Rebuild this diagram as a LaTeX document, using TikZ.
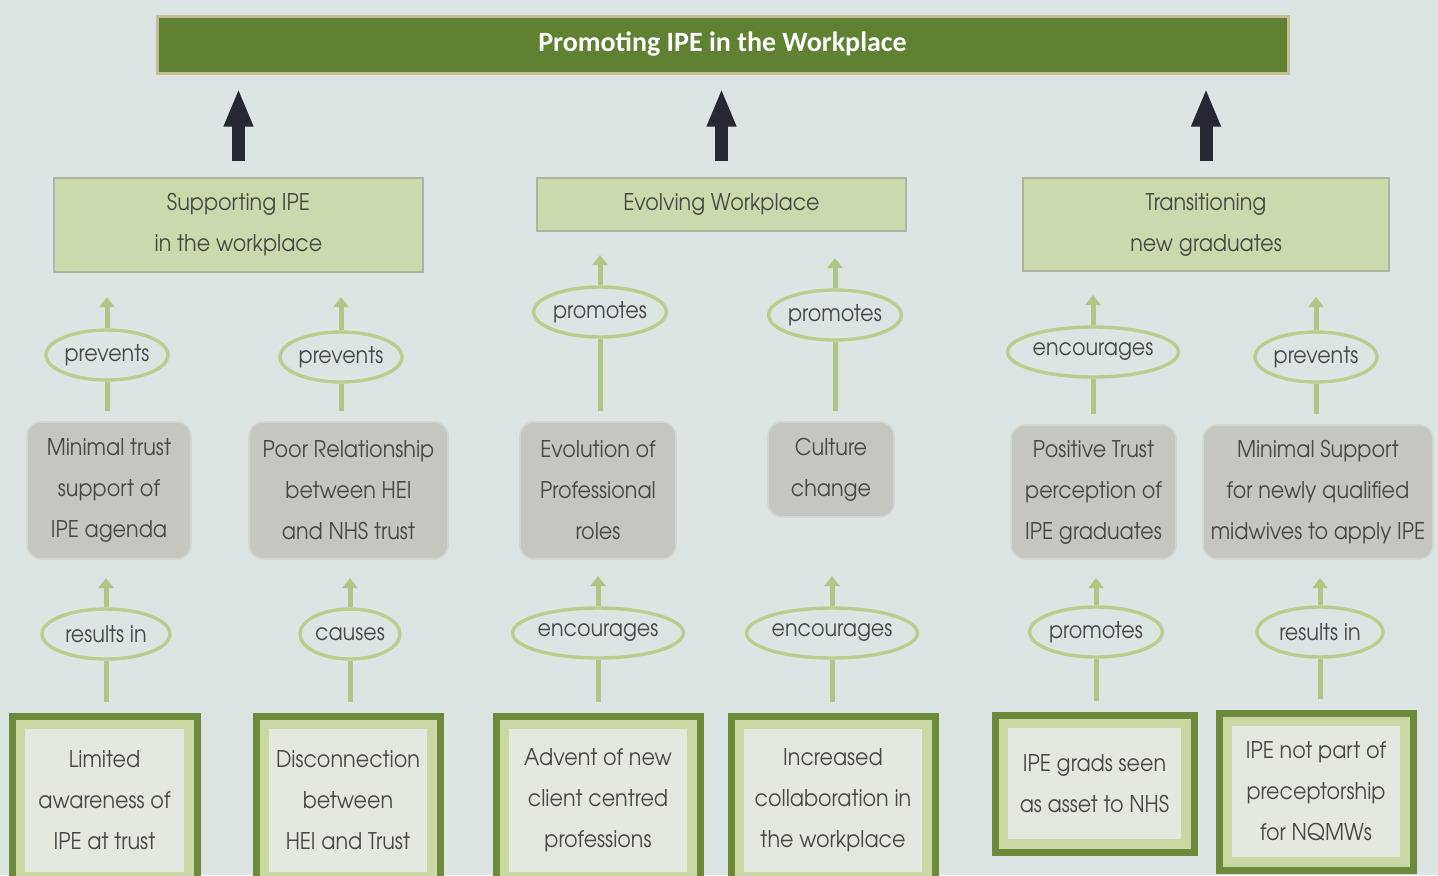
\documentclass[tikz,border=0pt]{standalone}
\usepackage{fontspec}
\setmainfont{TeX Gyre Adventor}[FakeStretch=0.9]
\newfontfamily\titlefont{Carlito}
\usetikzlibrary{arrows.meta,shapes.geometric}

\definecolor{bg}{RGB}{221,229,228}
\definecolor{bannergreen}{RGB}{96,128,50}
\definecolor{bannerrim}{RGB}{196,190,150}
\definecolor{themefill}{RGB}{202,218,172}
\definecolor{themeline}{RGB}{175,178,165}
\definecolor{greyfill}{RGB}{197,198,192}
\definecolor{greyline}{RGB}{212,213,208}
\definecolor{ringgreen}{RGB}{186,204,144}
\definecolor{linkgreen}{RGB}{176,198,134}
\definecolor{framegreen}{RGB}{108,138,58}
\definecolor{bandgreen}{RGB}{201,215,163}
\definecolor{innerfill}{RGB}{228,233,224}
\definecolor{txt}{RGB}{72,72,72}
\definecolor{arrowdark}{RGB}{40,40,52}

\tikzset{
  body/.style={text=txt, align=center, inner sep=0pt,
    font=\fontsize{11.5}{20.5}\selectfont},
  banner/.style={draw=bannerrim, line width=1.5pt, fill=bannergreen,
    text=white, inner sep=0pt, font=\titlefont\bfseries\fontsize{14}{16}\selectfont},
  theme/.style={body, draw=themeline, line width=1.2pt, fill=themefill},
  issue/.style={body, draw=greyline, line width=0.8pt, fill=greyfill,
    rounded corners=7pt},
  verb/.style={body, ellipse, draw=ringgreen, line width=1.7pt, fill=bg,
    minimum height=25pt},
  cause/.style={body, draw=framegreen, line width=3.5pt, fill=innerfill,
    path picture={\draw[bandgreen, line width=13pt]
      (path picture bounding box.south west) rectangle
      (path picture bounding box.north east);}},
  link/.style={draw=linkgreen, line width=2.5pt},
  linkarrow/.style={link, -{Triangle[width=7.5pt,length=5pt]}},
  bigarrow/.style={draw=arrowdark, line width=6.5pt,
    -{Triangle[width=13.5pt,length=19pt]}}
}

\begin{document}
\begin{tikzpicture}[x=0.5pt,y=-0.5pt]
\fill[bg] (0,0) rectangle (1438,875);
\useasboundingbox (0,0) rectangle (1438,875);
\clip (0,0) rectangle (1438,875);

% headline
\node[banner, minimum width=565.5pt, minimum height=28.5pt] (top) at (722.5,44.5)
  {Promoting IPE in the Workplace};

% three themes
\node[theme, minimum width=184.5pt, minimum height=47pt] (t1) at (238.5,225)
  {Supporting IPE\\in the workplace};
\node[theme, minimum width=184.5pt, minimum height=26.5pt] (t2) at (721.5,204.5)
  {Evolving Workplace};
\node[theme, minimum width=183pt, minimum height=46.5pt] (t3) at (1206,224.5)
  {Transitioning\\new graduates};

\foreach \t in {t1,t2,t3}
  \draw[bigarrow] ([yshift=8pt]\t.north) -- ([yshift=-7pt]\t.north |- top.south);

% sub-themes
\node[issue, minimum width=82pt, minimum height=68.5pt] (g1) at (109,490.5)
  {Minimal trust\\support of\\IPE agenda};
\node[issue, minimum width=99.5pt, minimum height=68.5pt] (g2) at (348.5,490.5)
  {Poor Relationship\\between HEI\\and NHS trust};
\node[issue, minimum width=78pt, minimum height=68.5pt] (g3) at (598,490.5)
  {Evolution of\\Professional\\roles};
\node[issue, minimum width=63pt, minimum height=47.5pt] (g4) at (831,469.5)
  {Culture\\change};
\node[issue, minimum width=82.5pt, minimum height=67pt] (g5) at (1093.5,492)
  {Positive Trust\\perception of\\IPE graduates};
\node[issue, minimum width=115pt, minimum height=67pt] (g6) at (1318,492)
  {Minimal Support\\for newly qualified\\midwives to apply IPE};

% upper relation labels
\node[verb, minimum width=61pt] (e1) at (107,355) {prevents};
\node[verb, minimum width=61pt] (e2) at (341,357) {prevents};
\node[verb, minimum width=61.5pt] (e3) at (600,312) {promotes};
\node[verb, minimum width=61.5pt] (e4) at (835,315) {promotes};
\node[verb, minimum width=75.5pt] (e5) at (1093,352) {encourages};
\node[verb, minimum width=61pt] (e6) at (1316,357) {prevents};

\coordinate (u1) at (107,297);
\coordinate (u2) at (341,297);
\coordinate (u3) at (600,255);
\coordinate (u4) at (835,258);
\coordinate (u5) at (1093,295);
\coordinate (u6) at (1316,297);

% evidence boxes
\node[cause, minimum width=92.5pt, minimum height=84.5pt] (b1) at (104.5,800.5)
  {Limited\\awareness of\\IPE at trust};
\node[cause, minimum width=92pt, minimum height=84.5pt] (b2) at (348,800.5)
  {Disconnection\\between\\HEI and Trust};
\node[cause, minimum width=102pt, minimum height=84.5pt] (b3) at (598,800.5)
  {Advent of new\\client centred\\professions};
\node[cause, minimum width=102pt, minimum height=84.5pt] (b4) at (833,800.5)
  {Increased\\collaboration in\\the workplace};
\node[cause, minimum width=99.5pt, minimum height=68.5pt] (b5) at (1094.5,783.5)
  {IPE grads seen\\as asset to NHS};
\node[cause, minimum width=97pt, minimum height=78.5pt] (b6) at (1316,791.5)
  {IPE not part of\\preceptorship\\for NQMWs};

% lower relation labels
\node[verb, minimum width=64pt] (l1) at (106,634) {results in};
\node[verb, minimum width=50pt] (l2) at (350,634) {causes};
\node[verb, minimum width=76.5pt] (l3) at (598,633) {encourages};
\node[verb, minimum width=77pt] (l4) at (832,633) {encourages};
\node[verb, minimum width=62pt] (l5) at (1096,632) {promotes};
\node[verb, minimum width=63pt] (l6) at (1320,632) {results in};

\coordinate (d1) at (106,578);
\coordinate (d2) at (350,578);
\coordinate (d3) at (598,576);
\coordinate (d4) at (832,576);
\coordinate (d5) at (1096,578);
\coordinate (d6) at (1320,578);

% connectors
\foreach \i in {1,...,6} {
  \draw[link] ([yshift=5pt]e\i.south |- g\i.north) -- (e\i.south);
  \draw[linkarrow] (e\i.north) -- (u\i);
  \draw[link] ([yshift=5.5pt]l\i.south |- b\i.north) -- (l\i.south);
  \draw[linkarrow] (l\i.north) -- (d\i);
}
\end{tikzpicture}
\end{document}
